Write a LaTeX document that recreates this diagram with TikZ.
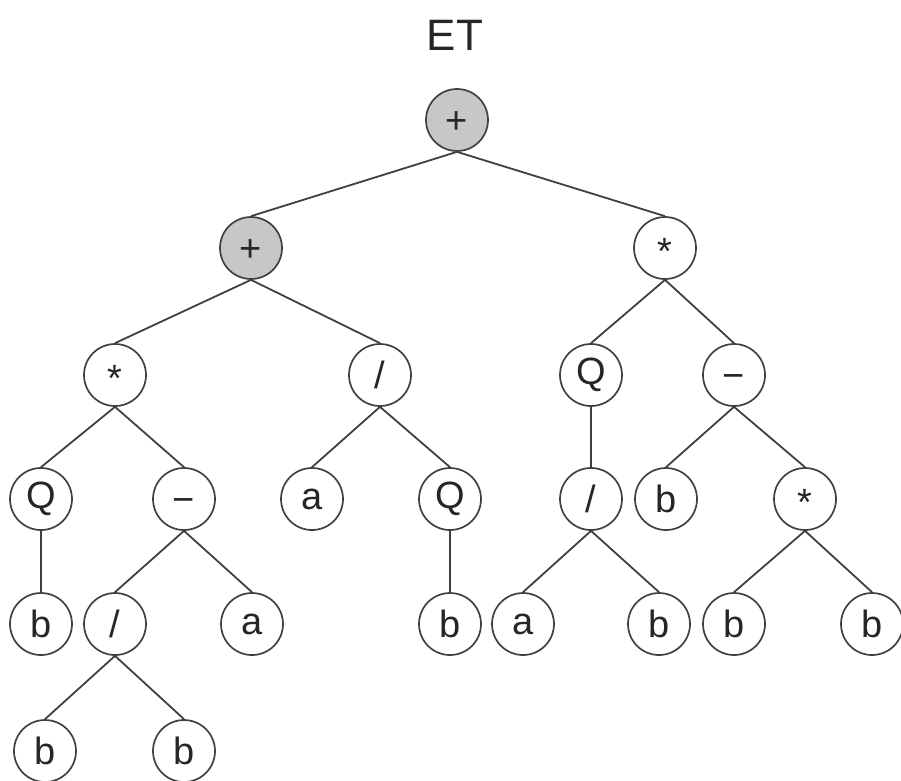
\documentclass[tikz,border=0pt]{standalone}
\usepackage{fontspec}
\setmainfont{Liberation Sans}
\newcommand{\opmid}[2]{\raisebox{-#1}[0pt][0pt]{#2}}
\tikzset{
  vertex/.style = {circle, draw=black!75, line width=1.7pt, minimum size=62pt,
                   inner sep=0pt, font=\fontsize{38}{46}\selectfont, text=black!85},
  shaded/.style = {vertex, fill=black!22},
  edge/.style   = {draw=black!75, line width=1.8pt}
}
\begin{document}
\begin{tikzpicture}[x=1pt, y=-1pt]
	\useasboundingbox (0,0) rectangle (901,780);
	\node[font=\fontsize{44}{52}\selectfont, text=black!85] (title) at (455,35) {ET};
	% level 0 and 1
	\node[shaded] (root) at (457,120) {\opmid{.35em}{+}};
	\node[shaded] (plusL) at (251,248) {\opmid{.35em}{+}};
	\node[vertex] (mulR) at (665,248) {\opmid{.44em}{*}};
	% level 2
	\node[vertex] (mulL) at (115,375) {\opmid{.44em}{*}};
	\node[vertex] (divL) at (380,375) {/};
	\node[vertex] (qR) at (591,375) {Q};
	\node[vertex] (subR) at (734,375) {\opmid{.36em}{−}};
	% level 3
	\node[vertex] (qLL) at (41,499) {Q};
	\node[vertex] (subL) at (184,499) {\opmid{.36em}{−}};
	\node[vertex] (aL) at (312,499) {a};
	\node[vertex] (qLR) at (450,499) {Q};
	\node[vertex] (divR) at (591,499) {/};
	\node[vertex] (bR) at (666,499) {b};
	\node[vertex] (mulRR) at (805,499) {\opmid{.44em}{*}};
	% level 4
	\node[vertex] (b1) at (41,624) {b};
	\node[vertex] (divLL) at (115,624) {/};
	\node[vertex] (a2) at (252,624) {a};
	\node[vertex] (b3) at (450,624) {b};
	\node[vertex] (a3) at (523,624) {a};
	\node[vertex] (b4) at (659,624) {b};
	\node[vertex] (b5) at (734,624) {b};
	\node[vertex] (b6) at (872,624) {b};
	% level 5
	\node[vertex] (b7) at (45,751) {b};
	\node[vertex] (b8) at (184,751) {b};

	\draw[edge] (root.south) -- (plusL.north);
	\draw[edge] (root.south) -- (mulR.north);
	\draw[edge] (plusL.south) -- (mulL.north);
	\draw[edge] (plusL.south) -- (divL.north);
	\draw[edge] (mulR.south) -- (qR.north);
	\draw[edge] (mulR.south) -- (subR.north);
	\draw[edge] (mulL.south) -- (qLL.north);
	\draw[edge] (mulL.south) -- (subL.north);
	\draw[edge] (divL.south) -- (aL.north);
	\draw[edge] (divL.south) -- (qLR.north);
	\draw[edge] (qR.south) -- (divR.north);
	\draw[edge] (subR.south) -- (bR.north);
	\draw[edge] (subR.south) -- (mulRR.north);
	\draw[edge] (qLL.south) -- (b1.north);
	\draw[edge] (subL.south) -- (divLL.north);
	\draw[edge] (subL.south) -- (a2.north);
	\draw[edge] (qLR.south) -- (b3.north);
	\draw[edge] (divR.south) -- (a3.north);
	\draw[edge] (divR.south) -- (b4.north);
	\draw[edge] (mulRR.south) -- (b5.north);
	\draw[edge] (mulRR.south) -- (b6.north);
	\draw[edge] (divLL.south) -- (b7.north);
	\draw[edge] (divLL.south) -- (b8.north);
\end{tikzpicture}
\end{document}
